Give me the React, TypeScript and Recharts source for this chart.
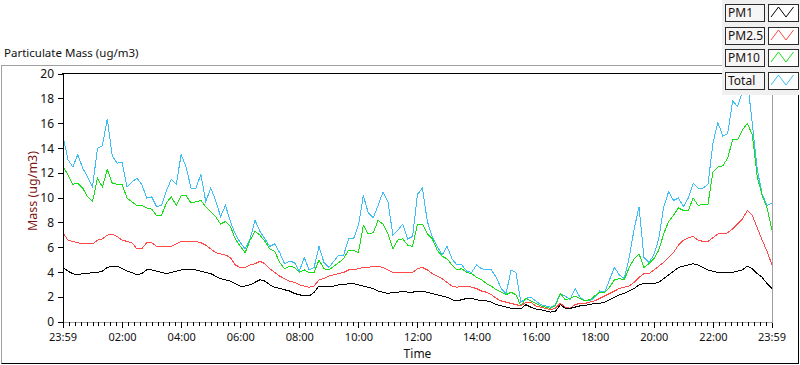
import React from 'react';
import { LineChart, Line, XAxis, YAxis } from 'recharts';

// Sampling grid: minutes after the 23:59 start, one sample every 10 minutes
const sampleMinutes: number[] = Array.from({ length: 145 }, (_, i) => i * 10);

const pm1: number[] = [
  4.4, 4.1, 3.9, 3.8, 3.9, 3.9, 4.0, 4.0, 4.1, 4.4, 4.5, 4.5, 4.3, 4.1, 4.0, 3.8, 3.9, 4.2, 4.2, 4.1, 4.0, 3.9, 4.0, 4.1, 4.2, 4.2, 4.2, 4.2, 4.1, 4.0, 3.9, 3.7, 3.5, 3.4, 3.3, 3.1,
  2.9, 2.9, 3.0, 3.2, 3.4, 3.3, 3.0, 2.8, 2.7, 2.6, 2.5, 2.3, 2.2, 2.1, 2.1, 2.4, 2.9, 2.9, 2.9, 2.9, 3.0, 3.0, 3.1, 3.1, 3.0, 2.9, 2.8, 2.7, 2.5, 2.4, 2.3, 2.4, 2.4, 2.5, 2.4, 2.4, 2.5,
  2.5, 2.4, 2.3, 2.2, 2.1, 2.0, 1.8, 1.7, 1.8, 1.9, 1.9, 1.8, 1.7, 1.7, 1.6, 1.4, 1.3, 1.2, 1.1, 1.05, 1.05, 1.4, 1.2, 1.05, 1.0, 0.9, 0.8, 0.85, 1.4, 1.1, 1.1, 1.2, 1.3, 1.35, 1.4, 1.5,
  1.5, 1.6, 1.8, 2.0, 2.2, 2.3, 2.5, 2.7, 3.0, 3.1, 3.1, 3.1, 3.2, 3.5, 3.8, 4.1, 4.4, 4.5, 4.6, 4.7, 4.6, 4.4, 4.2, 4.1, 4.0, 4.0, 4.0, 4.0, 4.1, 4.2, 4.5, 4.3, 3.9, 3.6, 3.1, 2.7,
];

const pm25: number[] = [
  7.2, 6.6, 6.5, 6.4, 6.3, 6.3, 6.3, 6.6, 6.7, 7.0, 7.1, 6.9, 6.6, 6.5, 6.4, 5.9, 5.9, 6.4, 6.4, 6.1, 6.1, 6.1, 6.1, 6.3, 6.5, 6.5, 6.5, 6.5, 6.4, 6.2, 5.9, 5.6, 5.5, 5.4, 5.2, 4.6,
  4.4, 4.4, 4.6, 4.7, 4.9, 4.7, 4.3, 4.0, 3.7, 3.5, 3.3, 3.2, 3.0, 2.9, 2.8, 2.9, 3.4, 3.5, 3.7, 3.8, 3.9, 4.0, 4.2, 4.2, 4.3, 4.4, 4.4, 4.5, 4.5, 4.4, 4.2, 4.0, 4.0, 4.0, 4.0, 4.0, 4.3,
  4.4, 4.2, 3.9, 3.7, 3.5, 3.2, 2.9, 2.8, 2.9, 2.9, 2.8, 2.7, 2.5, 2.4, 2.2, 1.9, 1.7, 1.6, 1.5, 1.4, 1.3, 1.6, 1.6, 1.3, 1.2, 1.1, 1.0, 1.1, 1.5, 1.2, 1.1, 1.4, 1.5, 1.5, 1.6, 1.7,
  1.9, 2.1, 2.3, 2.5, 2.7, 2.8, 2.9, 3.2, 3.6, 3.9, 3.9, 4.2, 4.5, 4.8, 5.2, 5.6, 6.2, 6.6, 6.8, 6.9, 6.6, 6.5, 6.5, 6.8, 7.1, 7.1, 7.2, 7.5, 7.9, 8.3, 9.0, 8.6, 7.6, 6.6, 5.7, 4.6,
];

const pm10: number[] = [
  12.5, 11.9, 11.1, 11.2, 10.8, 10.1, 9.7, 11.6, 10.9, 12.3, 11.2, 11.1, 11.1, 10.0, 9.7, 9.4, 9.4, 9.2, 9.1, 8.6, 8.6, 9.6, 10.1, 9.4, 10.2, 10.2, 9.6, 9.7, 9.8, 9.3, 8.9, 8.5, 7.9, 8.1, 7.7, 6.7,
  6.1, 5.6, 6.6, 7.3, 7.0, 6.5, 5.9, 5.7, 4.8, 4.3, 4.5, 4.4, 4.0, 4.2, 4.0, 4.0, 5.0, 4.3, 4.2, 4.5, 4.8, 5.1, 5.8, 5.8, 5.6, 7.8, 7.1, 7.2, 8.2, 7.9, 7.1, 5.9, 6.6, 6.7, 6.2, 6.1, 7.9,
  7.9, 7.1, 6.7, 5.8, 5.3, 5.1, 4.6, 4.2, 4.3, 4.0, 3.9, 3.6, 3.4, 3.1, 2.9, 2.6, 2.4, 2.2, 2.4, 2.2, 1.3, 1.9, 1.7, 1.5, 1.3, 1.2, 1.1, 1.3, 2.3, 1.8, 1.9, 2.1, 1.9, 1.7, 1.8, 2.1,
  2.4, 2.4, 2.8, 3.4, 3.5, 3.4, 4.4, 5.1, 5.5, 4.4, 4.7, 5.1, 5.8, 7.1, 8.1, 8.6, 9.2, 9.0, 9.0, 10.0, 9.4, 9.5, 9.5, 12.1, 12.5, 12.6, 13.2, 14.7, 14.7, 15.5, 16.0, 15.1, 11.7, 10.2, 9.2, 7.4,
];

const total: number[] = [
  15.0, 13.1, 12.5, 13.5, 12.4, 11.7, 10.9, 14.0, 14.2, 16.4, 13.4, 12.8, 12.9, 10.9, 11.3, 11.6, 11.1, 10.0, 10.1, 9.3, 9.4, 10.6, 11.5, 11.1, 13.5, 12.5, 10.8, 10.8, 11.9, 9.7, 10.8, 9.8, 8.5, 9.4, 8.1, 7.1,
  6.4, 5.9, 6.7, 8.2, 7.3, 6.7, 6.1, 6.3, 5.6, 4.7, 4.9, 4.8, 4.1, 5.2, 4.2, 4.4, 6.1, 4.8, 4.4, 4.9, 5.4, 5.4, 6.7, 6.7, 7.8, 10.2, 8.8, 8.4, 9.4, 10.5, 9.7, 7.0, 7.4, 7.9, 6.7, 6.9, 10.3,
  10.8, 8.1, 6.9, 6.1, 5.4, 6.1, 5.1, 4.6, 4.6, 4.1, 4.0, 4.6, 4.3, 4.2, 4.2, 3.6, 2.7, 2.3, 4.2, 4.0, 1.6, 1.9, 2.0, 1.7, 1.4, 1.3, 1.2, 1.4, 2.3, 2.1, 1.8, 2.7, 2.0, 1.7, 1.7, 2.0,
  2.5, 2.4, 3.4, 4.4, 3.8, 3.5, 5.2, 7.5, 9.3, 5.2, 4.8, 5.4, 6.7, 9.3, 10.5, 9.8, 10.0, 9.3, 10.0, 11.2, 10.8, 10.8, 11.1, 14.4, 16.1, 15.0, 15.2, 17.8, 17.4, 18.6, 19.5, 16.0, 12.3, 10.3, 9.4, 9.6,
];

const MAJOR_TICKS: number[] = [0, 121, 241, 361, 481, 601, 721, 841, 961, 1081, 1201, 1321, 1440];
const MAJOR_LABELS: string[] = ['23:59', '02:00', '04:00', '06:00', '08:00', '10:00', '12:00', '14:00', '16:00', '18:00', '20:00', '22:00', '23:59'];
const MINOR_TICKS: number[] = Array.from({ length: 119 }, (_, k) => 13 + 12 * k).filter((t) => !MAJOR_TICKS.includes(t));
const Y_TICKS: number[] = [0, 2, 4, 6, 8, 10, 12, 14, 16, 18, 20];

const SERIES = [
  { key: 'total', name: 'Total', color: '#3dbdf7' },
  { key: 'pm10', name: 'PM10', color: '#14e014' },
  { key: 'pm25', name: 'PM2.5', color: '#ff4848' },
  { key: 'pm1', name: 'PM1', color: '#000000' },
];
const LEGEND_ORDER = ['PM1', 'PM2.5', 'PM10', 'Total'];

const rows = sampleMinutes.map((t, i) => ({ t, pm1: pm1[i], pm25: pm25[i], pm10: pm10[i], total: total[i] }));
const allXTicks = [...MAJOR_TICKS, ...MINOR_TICKS].sort((a, b) => a - b);

const FONT = "'Noto Sans', 'DejaVu Sans', sans-serif";

const TimeTick = (props: any) => {
  const { x, y, payload } = props;
  const idx = MAJOR_TICKS.indexOf(payload.value);
  const major = idx >= 0;
  return (
    <g>
      <line x1={x} x2={x} y1={y} y2={y + (major ? 6 : 4)} stroke="#000" strokeWidth={1} shapeRendering="crispEdges" />
      {major && (
        <text x={x} y={y + 19} textAnchor="middle" fontSize={11} fontFamily={FONT} fill="#111">
          {MAJOR_LABELS[idx]}
        </text>
      )}
    </g>
  );
};

const YLabel = (props: any) => {
  const vb = props.viewBox || { x: 3, y: 74, width: 60, height: 248 };
  const cx = vb.x + 29;
  const cy = vb.y + vb.height / 2 - 7;
  return (
    <text x={cx} y={cy} transform={`rotate(-90, ${cx}, ${cy})`} textAnchor="middle" dominantBaseline="central" fontSize={12.5} fontFamily={FONT} fill="#7d1515">
      Mass (ug/m3)
    </text>
  );
};

const XLabel = (props: any) => {
  const vb = props.viewBox || { x: 63, y: 322, width: 709, height: 43 };
  return (
    <text x={vb.x + vb.width / 2} y={vb.y + 36} textAnchor="middle" fontSize={12} fontFamily={FONT} fill="#111">
      Time
    </text>
  );
};

const LegendPanel = () => (
  <div style={{ position: 'absolute', left: 722, top: 0, width: 78, height: 95, background: '#f0f0f0', zIndex: 3 }}>
    {LEGEND_ORDER.map((name, i) => {
      const s = SERIES.find((q) => q.name === name)!;
      const top = [4, 27, 49, 72][i];
      return (
        <React.Fragment key={name}>
          <div
            style={{
              position: 'absolute', left: 3, top, width: 40, height: 18, boxSizing: 'border-box',
              border: '1px solid #2a2a2a', background: '#f6f6f6', fontFamily: FONT, fontSize: 12,
              lineHeight: '16px', paddingLeft: 2, color: '#1a1010', whiteSpace: 'nowrap',
            }}
          >
            {name}
          </div>
          <svg style={{ position: 'absolute', left: 46, top }} width={31} height={18}>
            <rect x={0.5} y={0.5} width={30} height={17} fill="#fff" stroke="#2a2a2a" />
            <polyline points="3,13 10.5,3 18,13 25.5,3" fill="none" stroke={s.color} strokeWidth={1} />
          </svg>
        </React.Fragment>
      );
    })}
  </div>
);

export default function App() {
  return (
    <div style={{ position: 'absolute', left: 0, top: 0, width: 800, height: 365, background: '#fff', overflow: 'hidden', fontFamily: FONT }}>
      <div style={{ position: 'absolute', left: 4, top: 45, fontSize: 11.5, color: '#111', whiteSpace: 'nowrap' }}>
        Particulate Mass (ug/m3)
      </div>
      <div
        style={{
          position: 'absolute', left: 1, top: 65, width: 798, height: 299, boxSizing: 'border-box',
          borderTop: '1px solid #a0a0a0', borderLeft: '1px solid #a0a0a0', borderRight: '1px solid #000', borderBottom: '1px solid #000',
        }}
      />
      <div style={{ position: 'absolute', left: 0, top: 0, zIndex: 1 }}>
        <LineChart width={800} height={365} data={rows} margin={{ top: 74, right: 28, bottom: 0, left: 3 }}>
          <XAxis
            dataKey="t"
            type="number"
            domain={[0, 1440]}
            ticks={allXTicks}
            interval={0}
            tickSize={0}
            tickMargin={0}
            tickLine={false}
            tick={<TimeTick />}
            height={43}
            axisLine={{ stroke: '#a0a0a0', shapeRendering: 'crispEdges' }}
            label={XLabel}
            allowDataOverflow
          />
          <YAxis
            type="number"
            domain={[0, 20]}
            ticks={Y_TICKS}
            interval={0}
            width={60}
            tickSize={5}
            tickMargin={4}
            tickLine={{ stroke: '#000', shapeRendering: 'crispEdges' }}
            axisLine={{ stroke: '#000', shapeRendering: 'crispEdges' }}
            tick={{ fill: '#111', fontSize: 12, fontFamily: FONT }}
            label={YLabel}
            allowDataOverflow
          />
          {SERIES.map((s) => (
            <Line
              key={s.key}
              type="linear"
              dataKey={s.key}
              name={s.name}
              stroke={s.color}
              strokeWidth={1}
              shapeRendering="crispEdges"
              dot={false}
              activeDot={false}
              isAnimationActive={false}
            />
          ))}
        </LineChart>
      </div>
      <div style={{ position: 'absolute', left: 62, top: 73, width: 711, height: 1, background: '#000', zIndex: 2 }} />
      <div style={{ position: 'absolute', left: 772, top: 73, width: 1, height: 250, background: '#a0a0a0', zIndex: 2 }} />
      <LegendPanel />
    </div>
  );
}
